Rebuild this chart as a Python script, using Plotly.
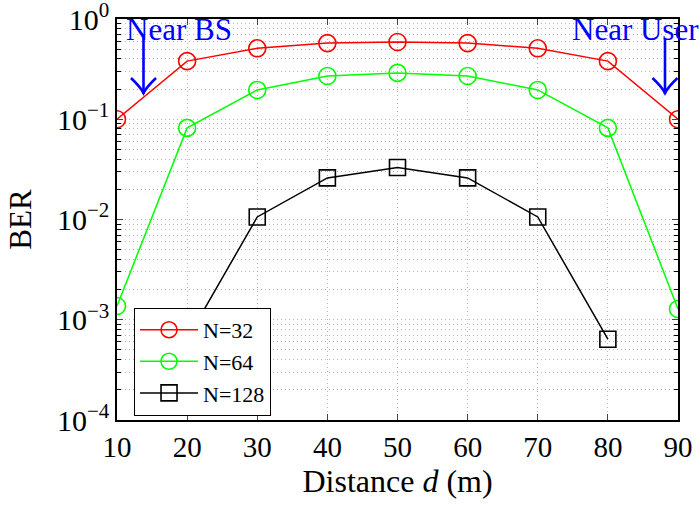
import plotly.graph_objects as go

distance = [10, 20, 30, 40, 50, 60, 70, 80, 90]
ber_n32 = [0.10, 0.38, 0.51, 0.575, 0.59, 0.575, 0.51, 0.38, 0.10]
ber_n64 = [1.37e-3, 0.082, 0.196, 0.27, 0.29, 0.27, 0.196, 0.082, 1.28e-3]
dist_n128 = [20, 30, 40, 50, 60, 70, 80]
ber_n128 = [6.4e-4, 0.0106, 0.026, 0.033, 0.026, 0.0106, 6.4e-4]

y_tickvals = [1e-4, 1e-3, 1e-2, 1e-1, 1]
y_ticktext = ["10<sup>−4</sup>", "10<sup>−3</sup>", "10<sup>−2</sup>", "10<sup>−1</sup>", "10<sup>0</sup>"]
y_minor_vals = [m * 10.0 ** e for e in range(-4, 0) for m in range(2, 10)]
x_tickvals = [10, 20, 30, 40, 50, 60, 70, 80, 90]

FONT = "Liberation Serif"
BLUE = "#0000ff"

fig = go.Figure()
fig.add_trace(go.Scatter(x=distance, y=ber_n32, name="N=32", mode="lines+markers",
                         line=dict(color="red", width=1.5),
                         marker=dict(symbol="circle-open", size=17, color="red", line=dict(width=1.6))))
fig.add_trace(go.Scatter(x=distance, y=ber_n64, name="N=64", mode="lines+markers",
                         line=dict(color="#00ff00", width=1.5),
                         marker=dict(symbol="circle-open", size=17, color="#00ff00", line=dict(width=1.6))))
fig.add_trace(go.Scatter(x=dist_n128, y=ber_n128, name="N=128", mode="lines+markers",
                         line=dict(color="black", width=1.5),
                         marker=dict(symbol="square-open", size=16, color="black", line=dict(width=1.6))))

grid = "rgba(175,175,175,0.9)"
fig.update_layout(
    width=700, height=506,
    margin=dict(l=117, r=22, t=19, b=86),
    paper_bgcolor="white", plot_bgcolor="white",
    font=dict(family=FONT, size=29, color="black"),
    showlegend=True,
    legend=dict(x=0.03, y=0.28, xanchor="left", yanchor="top",
                bgcolor="white", bordercolor="black", borderwidth=1.2,
                font=dict(family=FONT, size=22), tracegroupgap=0,
                itemwidth=58),
    xaxis=dict(range=[10, 90], tickvals=x_tickvals, ticks="inside", ticklen=6,
               showline=True, linecolor="black", linewidth=1.5, mirror="ticks",
               showgrid=True, gridcolor=grid, griddash="1px,3px", gridwidth=1,
               zeroline=False, automargin=False, ticklabeloverflow="allow",
               title=dict(text="Distance <i>d</i> (m)", font=dict(size=32), standoff=6),
               tickfont=dict(size=29)),
    yaxis=dict(type="log", range=[-4, 0], tickvals=y_tickvals, ticktext=y_ticktext,
               ticks="inside", ticklen=6,
               showline=True, linecolor="black", linewidth=1.5, mirror="ticks",
               showgrid=True, gridcolor=grid, griddash="1px,3px", gridwidth=1,
               minor=dict(tickvals=y_minor_vals, ticks="inside", ticklen=4, tickcolor="black",
                          showgrid=True, gridcolor=grid, griddash="1px,3px", gridwidth=1),
               zeroline=False, automargin=False, ticklabeloverflow="allow",
               title=dict(text="BER", font=dict(size=31), standoff=16),
               tickfont=dict(size=30)),
)

# pixel -> paper helpers for the decorative arrows
L, R, T, B = 117, 678, 19, 420
def px(x):
    return (x - L) / (R - L)
def py(y):
    return (B - y) / (B - T)

def arrow(xc, ytop, ytip, half=12.5, head=15):
    fig.add_shape(type="line", xref="paper", yref="paper",
                  x0=px(xc), x1=px(xc), y0=py(ytop), y1=py(ytip + 1),
                  line=dict(color=BLUE, width=2.6))
    path = (f"M {px(xc - half)},{py(ytip - head)} "
            f"Q {px(xc - 3)},{py(ytip - 6)} {px(xc)},{py(ytip)} "
            f"Q {px(xc + 3)},{py(ytip - 6)} {px(xc + half)},{py(ytip - head)}")
    fig.add_shape(type="path", xref="paper", yref="paper", path=path,
                  line=dict(color=BLUE, width=2.6))

arrow(143.5, 35, 93)
arrow(665, 38, 93)

fig.add_annotation(x=px(124), y=py(30), xref="paper", yref="paper", xanchor="left", yanchor="middle",
                   text="Near BS", showarrow=False, font=dict(family=FONT, size=31, color=BLUE))
fig.add_annotation(x=px(570), y=py(30), xref="paper", yref="paper", xanchor="left", yanchor="middle",
                   text="Near User", showarrow=False, font=dict(family=FONT, size=31, color=BLUE))

fig.write_html("out.html")
